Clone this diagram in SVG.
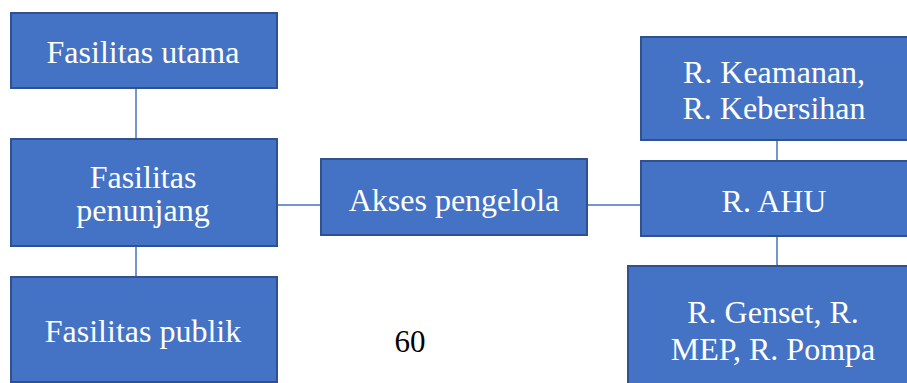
<svg xmlns="http://www.w3.org/2000/svg" width="907" height="383" viewBox="0 0 907 383">
<style>
.box{fill:#4472C4;stroke:#2F528F;stroke-width:2}
.t{font-family:'Liberation Serif',serif;font-size:32px;fill:#FFFFFF;text-anchor:middle}
.c{stroke:#4472C4;stroke-width:1.5;fill:none}
</style>
<rect width="907" height="383" fill="#FFFFFF"/>
<g id="connectors">
<line class="c" x1="136" y1="88" x2="136" y2="139"/>
<line class="c" x1="136" y1="246" x2="136" y2="277"/>
<line class="c" x1="277" y1="205" x2="321" y2="205"/>
<line class="c" x1="587" y1="205" x2="641" y2="205"/>
<line class="c" x1="777" y1="140" x2="777" y2="161"/>
<line class="c" x1="777" y1="236" x2="777" y2="266"/>
</g>
<g id="fasilitas-utama">
<rect class="box" x="11" y="13" width="266" height="75"/>
<text class="t" x="143" y="63" font-family="Liberation Serif">Fasilitas utama</text>
</g>
<g id="fasilitas-penunjang">
<rect class="box" x="11" y="139" width="266" height="107"/>
<text class="t" x="143" y="188" font-family="Liberation Serif">Fasilitas</text>
<text class="t" x="143" y="221" font-family="Liberation Serif">penunjang</text>
</g>
<g id="fasilitas-publik">
<rect class="box" x="11" y="277" width="266" height="105"/>
<text class="t" x="143" y="342" font-family="Liberation Serif">Fasilitas publik</text>
</g>
<g id="akses-pengelola">
<rect class="box" x="321" y="159" width="266" height="76"/>
<text class="t" x="454" y="211" font-family="Liberation Serif">Akses pengelola</text>
</g>
<g id="r-keamanan">
<rect class="box" x="641" y="37" width="270" height="103"/>
<text class="t" x="774" y="83" font-family="Liberation Serif">R. Keamanan,</text>
<text class="t" x="774" y="119" font-family="Liberation Serif">R. Kebersihan</text>
</g>
<g id="r-ahu">
<rect class="box" x="641" y="161" width="270" height="75"/>
<text class="t" x="774" y="212" font-family="Liberation Serif">R. AHU</text>
</g>
<g id="r-genset">
<rect class="box" x="628" y="266" width="290" height="130"/>
<text class="t" x="773" y="323" font-family="Liberation Serif">R. Genset, R.</text>
<text class="t" x="773" y="360" font-family="Liberation Serif">MEP, R. Pompa</text>
</g>
<text x="410" y="352" font-family="Liberation Serif" font-size="31" fill="#000000" text-anchor="middle">60</text>
</svg>
